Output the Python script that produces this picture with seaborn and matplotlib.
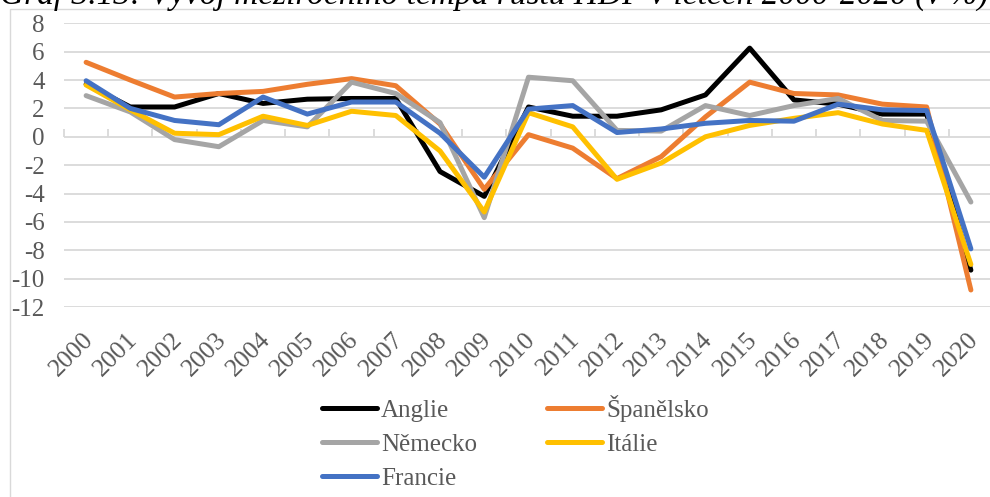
import numpy as np
import pandas as pd
import matplotlib
matplotlib.use("Agg")
import matplotlib.pyplot as plt
import matplotlib.transforms as mtransforms
from matplotlib.patches import Rectangle
from matplotlib.lines import Line2D
import seaborn as sns

years = [str(y) for y in range(2000, 2021)]
anglie = [3.7, 2.1, 2.1, 3.05, 2.35, 2.65, 2.7, 2.7, -2.45, -4.2, 2.1, 1.45, 1.45, 1.9, 2.95, 6.25, 2.6, 2.3, 1.6, 1.6, -9.4]
spanelsko = [5.25, 4.0, 2.8, 3.05, 3.2, 3.7, 4.1, 3.6, 0.9, -3.7, 0.15, -0.8, -2.95, -1.4, 1.4, 3.85, 3.05, 2.95, 2.3, 2.1, -10.8]
nemecko = [2.9, 1.75, -0.2, -0.7, 1.15, 0.7, 3.85, 3.05, 1.0, -5.7, 4.2, 3.95, 0.45, 0.4, 2.2, 1.5, 2.2, 2.7, 1.15, 1.1, -4.6]
italie = [3.65, 1.9, 0.25, 0.15, 1.45, 0.8, 1.8, 1.5, -1.0, -5.3, 1.7, 0.7, -3.0, -1.85, 0.0, 0.8, 1.3, 1.7, 0.9, 0.45, -9.0]
francie = [3.95, 2.0, 1.15, 0.85, 2.8, 1.6, 2.45, 2.45, 0.25, -2.85, 1.95, 2.2, 0.3, 0.55, 0.95, 1.15, 1.1, 2.3, 1.9, 1.85, -7.9]

series_names = ["Anglie", "Španělsko", "Německo", "Itálie", "Francie"]
series_values = [anglie, spanelsko, nemecko, italie, francie]
colors = ["#000000", "#ED7D31", "#A5A5A5", "#FFC000", "#4472C4"]
title_text = "Graf 3.13: Vývoj meziročního tempa růstu HDP v letech 2000-2020 (v %)"

rows = []
for name, vals in zip(series_names, series_values):
    for i, v in enumerate(vals):
        rows.append({"idx": i, "rok": years[i], "hodnota": v, "zeme": name})
df = pd.DataFrame(rows)

sns.set_theme(style="white")
plt.rcParams["font.family"] = ["Liberation Serif", "DejaVu Serif"]

W, H = 990, 497
fig = plt.figure(figsize=(W / 100, H / 100), dpi=100)
left_px, right_px = 64, 993
top_px, bot_px = 23.3, 307
ax = fig.add_axes([left_px / W, 1 - bot_px / H, (right_px - left_px) / W, (bot_px - top_px) / H])

lw = 3.6
sns.lineplot(data=df, x="idx", y="hodnota", hue="zeme", hue_order=series_names,
             palette=dict(zip(series_names, colors)), linewidth=lw, ax=ax,
             legend=False, sort=False, estimator=None)
for ln in ax.lines:
    ln.set_solid_capstyle("round")
    ln.set_solid_joinstyle("round")

ax.set_xlim(-0.5, 20.5)
ax.set_ylim(-12, 8)
ax.set_yticks(np.arange(-12, 9, 2))
ax.set_yticklabels([str(v) for v in range(-12, 9, 2)])
ax.yaxis.grid(True, color="#D9D9D9", linewidth=1.3)
ax.xaxis.grid(False)
for s in ax.spines.values():
    s.set_visible(False)
ax.tick_params(axis="y", length=0, pad=14, labelsize=18, labelcolor="#595959")
ax.set_xticks(range(len(years)))
ax.set_xticklabels(years, rotation=45, ha="right", va="center", rotation_mode="anchor")
ax.tick_params(axis="x", length=0, pad=21, labelsize=18.5, labelcolor="#595959")
shift = mtransforms.ScaledTranslation(0.04, 0, fig.dpi_scale_trans)
for lab in ax.get_xticklabels():
    lab.set_transform(lab.get_transform() + shift)
ax.set_xlabel("")
ax.set_ylabel("")

# category axis crossing at zero with boundary tick marks
sec = ax.secondary_xaxis((0 - (-12)) / 20)
sec.set_xticks(np.arange(-0.5, 21, 1))
sec.set_xticklabels([])
sec.tick_params(axis="x", direction="out", length=6, width=1.3, color="#D9D9D9")
sec.spines["bottom"].set_color("#D9D9D9")
sec.spines["bottom"].set_linewidth(1.3)
for k in ("top", "left", "right"):
    sec.spines[k].set_visible(False)

# chart area border
fig.add_artist(Rectangle((10 / W, -0.1), 2, 1 - 9 / H + 0.1, transform=fig.transFigure,
                         fill=False, edgecolor="#D9D9D9", linewidth=1.0))

# title (cropped at the top edge as in the reference)
fig.text(0.0, 1 - 4 / H, title_text, fontsize=24, style="italic", ha="left",
         va="baseline", color="#000000")

# legend
handles = {n: Line2D([0], [0], color=c, linewidth=lw, solid_capstyle="round")
           for n, c in zip(series_names, colors)}
order = ["Anglie", "Německo", "Francie", "Španělsko", "Itálie"]
fig.legend([handles[n] for n in order], order, ncol=2, loc="upper left",
           bbox_to_anchor=(322 / W, 1 - 395 / H), frameon=False, fontsize=18,
           labelcolor="#595959", handlelength=2.2, handletextpad=0.16,
           columnspacing=2.8, labelspacing=0.46, borderpad=0, borderaxespad=0)

fig.savefig("out.png", dpi=100)
